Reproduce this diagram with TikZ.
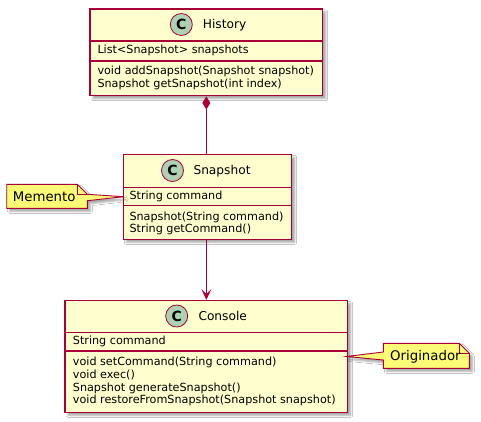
\documentclass[tikz,border=0pt]{standalone}
\usepackage{fontspec}
\setmainfont{DejaVu Sans}
\usetikzlibrary{shadows.blur,arrows.meta}
\definecolor{cfill}{HTML}{FEFECE}
\definecolor{cborder}{HTML}{A80036}
\definecolor{circfill}{HTML}{ADD1B2}
\definecolor{nfill}{HTML}{FBFB77}
\tikzset{
  myshadow/.style={blur shadow={shadow xshift=3pt,shadow yshift=-3pt,shadow blur radius=2pt,shadow opacity=35}},
  classbox/.style={draw=cborder,fill=cfill,line width=1.5pt,inner sep=0pt,rectangle,myshadow},
  sepline/.style={draw=cborder,line width=1.1pt},
  cmark/.style={circle,draw=cborder,fill=circfill,line width=0.8pt,minimum size=22pt,inner sep=0pt,font=\fontsize{14}{14}\selectfont\bfseries},
  cname/.style={anchor=base west,inner sep=0pt,font=\fontsize{12.2}{14}\selectfont},
  member/.style={anchor=base west,inner sep=0pt,font=\fontsize{11.2}{13}\selectfont},
  notetext/.style={anchor=base west,inner sep=0pt,font=\fontsize{13.3}{15}\selectfont},
  noteshape/.style={draw=cborder,fill=nfill,line width=0.9pt,line join=miter,myshadow},
  conn/.style={draw=cborder,line width=1pt},
}
\begin{document}
\begin{tikzpicture}[x=1pt,y=-1pt]
\useasboundingbox[fill=white] (0,0) rectangle (481,422);

% History
\node[classbox,minimum width=232.7pt,minimum height=86.7pt] (history) at (206.35,52.35) {};
\draw[sepline] (history.west |- 0,41) -- (history.east |- 0,41);
\draw[sepline] (history.west |- 0,61) -- (history.east |- 0,61);
\node[cmark] (hc) at (181.3,24.5) {C};
\node[cname] (hname) at (202.7,28.8) {History};
\node[member] (h1) at (97.3,54) {List<Snapshot> snapshots};
\node[member] (h2) at (97.3,75) {void addSnapshot(Snapshot snapshot)};
\node[member] (h3) at (97.3,87.6) {Snapshot getSnapshot(int index)};

% Snapshot
\node[classbox,minimum width=168.4pt,minimum height=85pt] (snapshot) at (207.5,196.8) {};
\draw[sepline] (snapshot.west |- 0,187.3) -- (snapshot.east |- 0,187.3);
\draw[sepline] (snapshot.west |- 0,205.7) -- (snapshot.east |- 0,205.7);
\node[cmark] (sc) at (172.5,170.5) {C};
\node[cname] (sname) at (193.3,174.8) {Snapshot};
\node[member] (s1) at (129.3,199.5) {String command};
\node[member] (s2) at (129.3,220.2) {Snapshot(String command)};
\node[member] (s3) at (129.3,232.8) {String getCommand()};

% Console
\node[classbox,minimum width=282.7pt,minimum height=111.6pt] (console) at (206.35,356.5) {};
\draw[sepline] (console.west |- 0,332.3) -- (console.east |- 0,332.3);
\draw[sepline] (console.west |- 0,351) -- (console.east |- 0,351);
\node[cmark] (cc) at (176.7,316) {C};
\node[cname] (cname) at (198.3,320.3) {Console};
\node[member] (c1) at (72.7,344.7) {String command};
\node[member] (c2) at (72.7,365.4) {void setCommand(String command)};
\node[member] (c3) at (72.7,378.2) {void exec()};
\node[member] (c4) at (72.7,391) {Snapshot generateSnapshot()};
\node[member] (c5) at (72.7,403.8) {void restoreFromSnapshot(Snapshot snapshot)};

% connectors
\draw[conn,{Diamond[length=13pt,width=8pt,fill=cborder]}-] (history.south) -- (history.south |- snapshot.north);
\draw[conn,-{Stealth[length=11pt,width=10pt,inset=5pt,fill=cborder]}] (snapshot.south -| history.south) -- (history.south |- console.north);

% Memento note
\path[noteshape] (6.7,184.3) -- (77.3,184.3) -- (87.3,194.3) -- (123.3,196.7) -- (87.3,200.7) -- (87.3,208.3) -- (6.7,208.3) -- cycle;
\draw[cborder,line width=0.9pt] (77.3,184.3) -- (77.3,194.3) -- (87.3,194.3);
\node[notetext] (memento) at (12.7,201.2) {Memento};

% Originador note
\path[noteshape] (383.3,343.3) -- (459.3,343.3) -- (469.3,353.3) -- (469.3,368.3) -- (383.3,368.3) -- (383.3,360) -- (346.5,356.5) -- (383.3,352) -- cycle;
\draw[cborder,line width=0.9pt] (459.3,343.3) -- (459.3,353.3) -- (469.3,353.3);
\node[notetext] (originador) at (390,360.3) {Originador};
\end{tikzpicture}
\end{document}
